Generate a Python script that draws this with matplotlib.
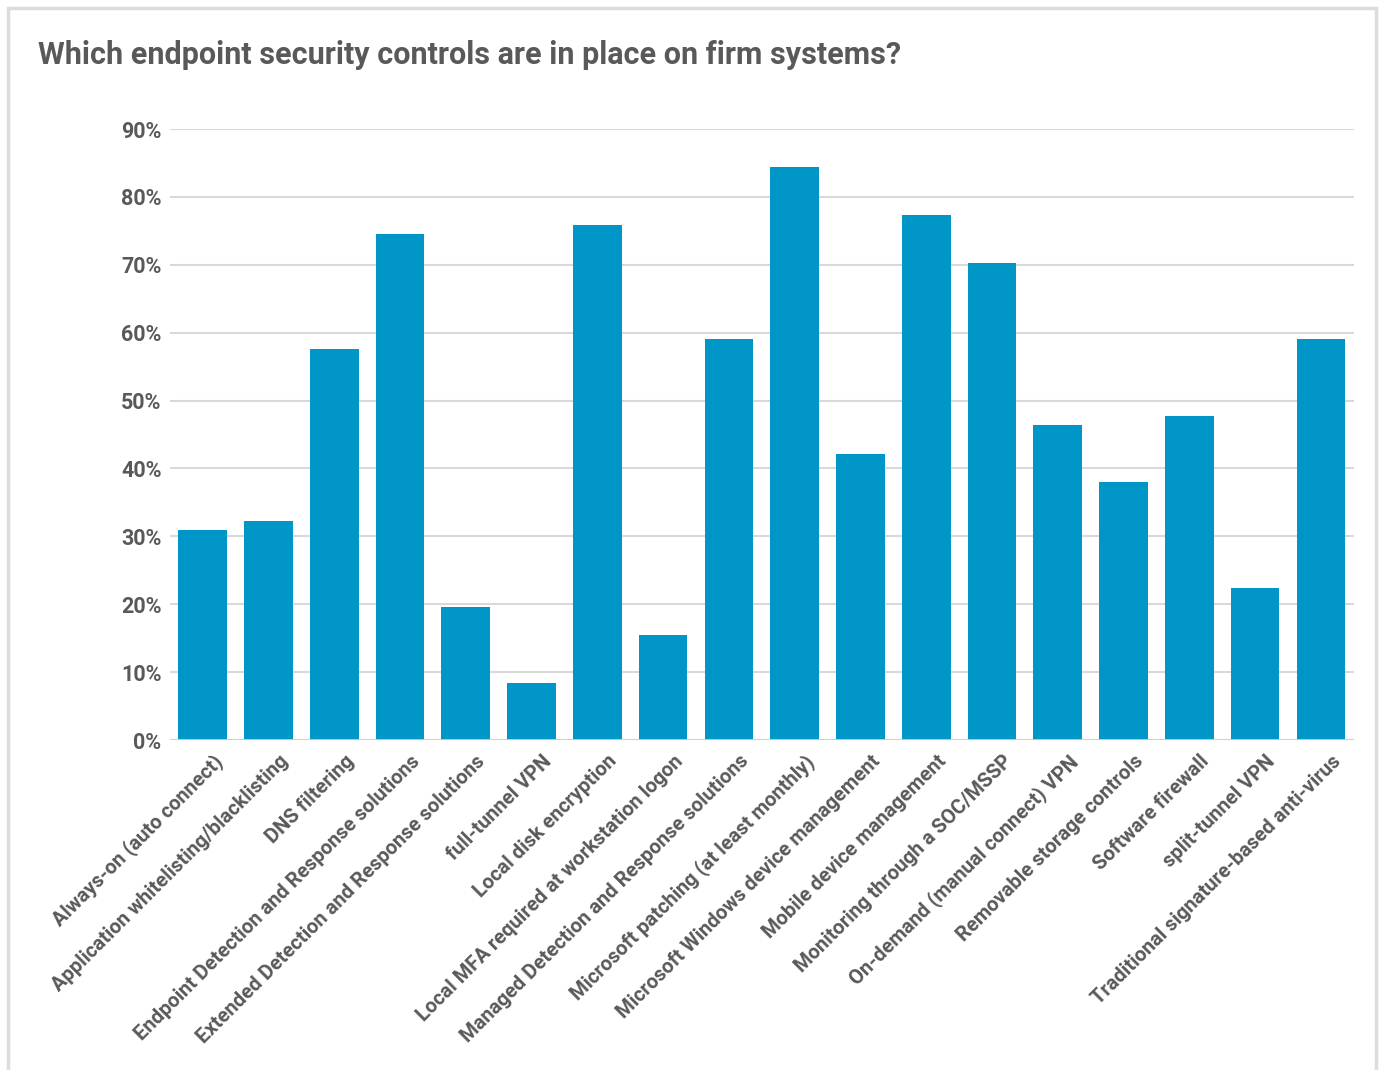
import matplotlib
matplotlib.use("Agg")
import matplotlib.pyplot as plt
from matplotlib.patches import Rectangle
from matplotlib.ticker import PercentFormatter
from matplotlib.transforms import ScaledTranslation

plt.rcParams['font.family'] = ['Roboto', 'DejaVu Sans']

controls = [
    "Always-on (auto connect)",
    "Application whitelisting/blacklisting",
    "DNS filtering",
    "Endpoint Detection and Response solutions",
    "Extended Detection and Response solutions",
    "full-tunnel VPN",
    "Local disk encryption",
    "Local MFA required at workstation logon",
    "Managed Detection and Response solutions",
    "Microsoft patching (at least monthly)",
    "Microsoft Windows device management",
    "Mobile device management",
    "Monitoring through a SOC/MSSP",
    "On-demand (manual connect) VPN",
    "Removable storage controls",
    "Software firewall",
    "split-tunnel VPN",
    "Traditional signature-based anti-virus",
]
share = [0.309, 0.323, 0.576, 0.745, 0.196, 0.084, 0.758, 0.155, 0.591,
         0.844, 0.421, 0.773, 0.703, 0.464, 0.380, 0.477, 0.224, 0.591]
y_ticks = [0, 0.1, 0.2, 0.3, 0.4, 0.5, 0.6, 0.7, 0.8, 0.9]

grey = '#595959'
blue = '#0097C8'

fig = plt.figure(figsize=(13.8, 10.7), dpi=100)
# light frame around the whole chart
fig.patches.append(Rectangle((8 / 1380, -0.01), 1368 / 1380, 1 - 8 / 1070 + 0.01,
                             transform=fig.transFigure, fill=False,
                             edgecolor='#dcdcdc', linewidth=2.5))

ax = fig.add_axes([0.123, 0.3084, 0.858, 0.571])
x = range(len(controls))
ax.bar(x, share, width=0.74, color=blue, zorder=3)

ax.set_ylim(0, 0.9)
ax.set_xlim(-0.5, len(controls) - 0.5)
ax.set_yticks(y_ticks)
ax.yaxis.set_major_formatter(PercentFormatter(1.0, decimals=0))
ax.grid(axis='y', color='#d9d9d9', linewidth=1.5, zorder=0)
ax.axhline(0, color='#cfcfcf', linewidth=2, zorder=4)
for s in ax.spines.values():
    s.set_visible(False)
ax.tick_params(axis='y', length=0, pad=6, labelsize=15.5, labelcolor=grey)
ax.tick_params(axis='x', length=0, pad=4)
for t in ax.get_yticklabels():
    t.set_fontweight('bold')

ax.set_xticks(list(x))
ax.set_xticklabels(controls, rotation=45, ha='right', rotation_mode='anchor',
                   fontsize=14.5, fontweight='bold', color=grey)
shift = ScaledTranslation(0.1, -0.06, fig.dpi_scale_trans)
for t in ax.get_xticklabels():
    t.set_transform(t.get_transform() + shift)

fig.text(38 / 1380, 1 - 55 / 1070, "Which endpoint security controls are in place on firm systems?",
         fontsize=22, fontweight='bold', color=grey, va='center', ha='left')

fig.savefig("out.png", dpi=100, facecolor='white')
